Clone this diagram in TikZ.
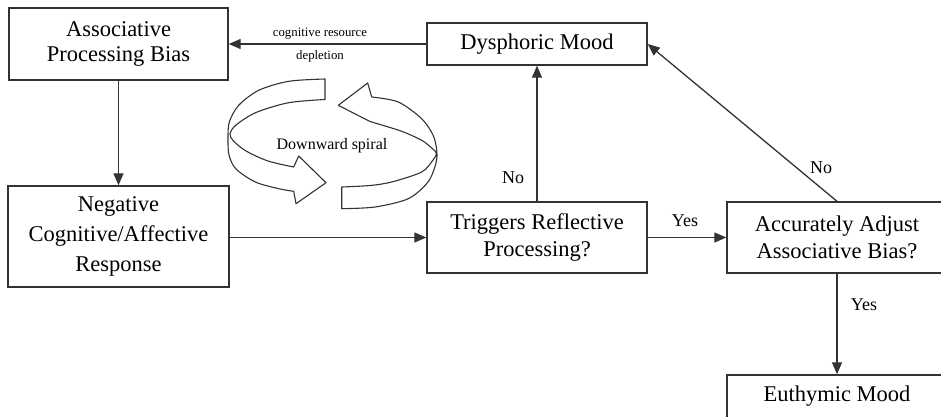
\documentclass[tikz,border=0pt]{standalone}
\usepackage{fontspec}
\setmainfont{Liberation Serif}
\usetikzlibrary{arrows.meta}
\begin{document}
\begin{tikzpicture}[x=1pt,y=-1pt,
  box/.style={draw=black!80, line width=1.4pt, fill=white, align=center, inner sep=2pt,
    font=\fontsize{22.5}{27.5}\selectfont},
  conn/.style={draw=black!80, line width=1.3pt, -{Triangle[length=12pt,width=10pt]}},
  lab/.style={font=\fontsize{18}{20}\selectfont, inner sep=0pt},
  small/.style={font=\fontsize{12.8}{15}\selectfont, inner sep=0pt},
  ribbon/.style={draw=black!80, line width=1.1pt, fill=white, line join=round}]
\useasboundingbox (0,0) rectangle (941,417);
\clip (0,0) rectangle (941,417);

% boxes
\node[box, minimum width=219pt, minimum height=72pt, font=\fontsize{22.5}{25}\selectfont] (apb) at (118.5,44) {Associative\\Processing Bias};
\node[box, minimum width=220pt, minimum height=42pt] (dys) at (537,44) {Dysphoric Mood};
\node[box, minimum width=221pt, minimum height=101pt, font=\fontsize{22.5}{30}\selectfont] (neg) at (118.5,236.5) {Negative\\Cognitive/Affective\\Response};
\node[box, minimum width=220pt, minimum height=71pt] (trig) at (537,237.5) {Triggers Reflective\\Processing?};
\node[box, minimum width=220pt, minimum height=71pt] (acc) at (837,237.5) {Accurately Adjust\\Associative Bias?};
\node[box, minimum width=220pt, minimum height=43pt] (eut) at (837,396.5) {Euthymic Mood};

% connectors
\draw[conn] (apb.south) -- (neg.north);
\draw[conn] (neg.east |- trig.west) -- (trig.west);
\draw[conn] (trig.north) -- (dys.south);
\draw[conn] (trig.east) -- (acc.west);
\draw[conn] (acc.north) -- (dys.east);
\draw[conn] (dys.west) -- (apb.east);
\draw[conn] (acc.south) -- (eut.north);

% labels
\node[small] (crd1) at (320,34) {cognitive resource};
\node[small] (crd2) at (320,56) {depletion};
\node[lab] (no1) at (513,178) {No};
\node[lab] (yes1) at (685,221) {Yes};
\node[lab] (no2) at (821,168) {No};
\node[lab] (yes2) at (864,305) {Yes};

% downward spiral
\draw[ribbon] plot[smooth] coordinates {(325,79) (288.7,81.3) (258.7,90.3) (238.7,105.3) (229.3,122) (228,138) (229,155) (236,169) (255.3,182) (278.7,188.7) (293.7,191.3)}
  -- (296,203.7) -- (326,182.7) -- (298.7,156) -- (293.7,167)
  -- plot[smooth] coordinates {(293.7,167) (268,161) (246,151) (233.5,141) (230,134) (236,125) (256,112.5) (288.7,102.7) (325,99.5)} -- cycle;
\draw[ribbon] plot[smooth] coordinates {(341.7,187) (370,185.5) (391.7,182) (421.7,172) (433,160) (436.5,153.5) (431.7,148) (421.7,140.3) (401.7,131.3) (375,123)}
  -- (370,121.5) -- (338.3,105.3) -- (367.7,83) -- (371.7,97)
  -- plot[smooth] coordinates {(371.7,97) (398.3,102) (421.7,118.7) (433,135) (436.7,150) (436,163) (428,182) (408.3,198.7) (375,207) (341.7,208.7)} -- cycle;
\node[font=\fontsize{16}{18}\selectfont, inner sep=0pt] (ds) at (332,146) {Downward spiral};
\end{tikzpicture}
\end{document}
